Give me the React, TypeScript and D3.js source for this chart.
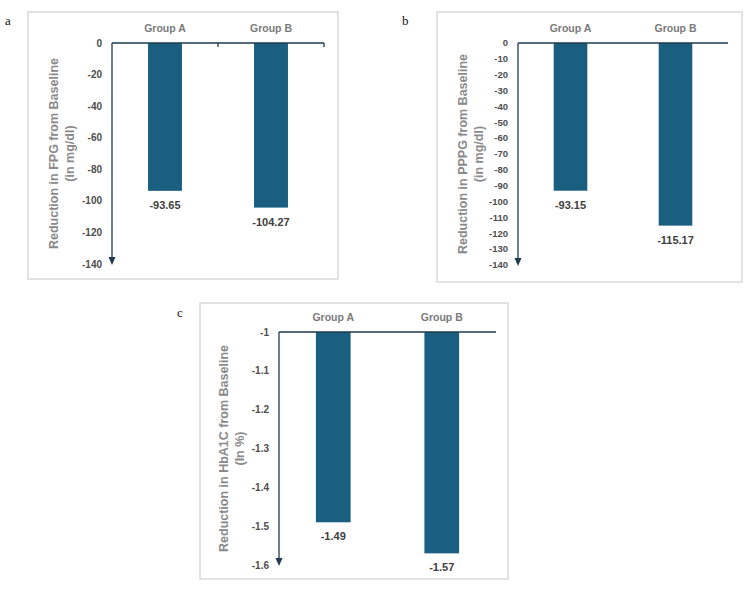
import * as d3 from "d3";

// Treatment groups and the mean reduction from baseline for each measure
const groups = ["Group A", "Group B"];
const fpgValues = [-93.65, -104.27];
const ppgValues = [-93.15, -115.17];
const hba1cValues = [-1.49, -1.57];

// Y tick values for each panel
const fpgTicks = [0, -20, -40, -60, -80, -100, -120, -140];
const ppgTicks = [0, -10, -20, -30, -40, -50, -60, -70, -80, -90, -100, -110, -120, -130, -140];
const hba1cTicks = [-1, -1.1, -1.2, -1.3, -1.4, -1.5, -1.6];

const COLORS = {
  bar: "#1b5f80",
  axis: "#1f3b4f",
  frame: "#d9d9d9",
  tick: "#4d4d4d",
  group: "#7a7a7a",
  title: "#8a8a8a",
  value: "#404040",
};

const FONT = "'Liberation Sans', Arial, Helvetica, sans-serif";

interface PanelProps {
  id: string;
  letter: string;
  letterPos: [number, number];
  frame: { x: number; y: number; w: number; h: number };
  plot: { left: number; right: number; top: number; bottom: number };
  values: number[];
  ticks: number[];
  titleLines: string[];
  titleX: number;
  tickRight: number;
  tickSize: number;
  bandTicks?: boolean;
}

function Panel({ id, letter, letterPos, frame, plot, values, ticks, titleLines, titleX, tickRight, tickSize, bandTicks }: PanelProps) {
  const y = d3.scaleLinear()
    .domain([ticks[0], ticks[ticks.length - 1]])
    .range([plot.top, plot.bottom]);

  const x = d3.scaleBand()
    .domain(groups)
    .range([plot.left, plot.right])
    .paddingInner(0.68)
    .paddingOuter(0.34);

  const outer = d3.scaleBand().domain(groups).range([plot.left, plot.right]);
  const base = ticks[0];
  const titleY = (plot.top + plot.bottom) / 2;
  const lineGap = 16;

  return (
    <g className={`panel-${id}`}>
      <text x={letterPos[0]} y={letterPos[1]} fontFamily="'Liberation Serif', 'Times New Roman', serif" fontSize={13} fill="#111">
        {letter}
      </text>
      <rect x={frame.x} y={frame.y} width={frame.w} height={frame.h} fill="#fff" stroke={COLORS.frame} strokeWidth={1.5} />

      {/* bars hanging down from the baseline */}
      {groups.map((g, i) => (
        <rect
          key={g}
          x={x(g)}
          y={y(base)}
          width={x.bandwidth()}
          height={y(values[i]) - y(base)}
          fill={COLORS.bar}
        />
      ))}

      {/* value labels under each bar */}
      {groups.map((g, i) => (
        <text
          key={`v-${g}`}
          x={(x(g) ?? 0) + x.bandwidth() / 2}
          y={y(values[i]) + 18}
          textAnchor="middle"
          fontFamily={FONT}
          fontWeight={700}
          fontSize={11}
          fill={COLORS.value}
        >
          {values[i].toFixed(2)}
        </text>
      ))}

      {/* category labels above the top axis */}
      {groups.map((g) => (
        <text
          key={`g-${g}`}
          x={(outer(g) ?? 0) + outer.bandwidth() / 2}
          y={plot.top - 11}
          textAnchor="middle"
          fontFamily={FONT}
          fontWeight={700}
          fontSize={10.5}
          fill={COLORS.group}
        >
          {g}
        </text>
      ))}

      {/* top category axis */}
      <line x1={plot.left} x2={plot.right} y1={y(base)} y2={y(base)} stroke={COLORS.axis} strokeWidth={1.3} />
      {bandTicks &&
        groups.map((g) => {
          const tx = (outer(g) ?? 0) + outer.bandwidth();
          return <line key={`t-${g}`} x1={tx} x2={tx} y1={y(base)} y2={y(base) + 4} stroke={COLORS.axis} strokeWidth={1.3} />;
        })}

      {/* value axis with arrow head */}
      <line x1={plot.left} x2={plot.left} y1={y(base)} y2={plot.bottom - 4} stroke={COLORS.axis} strokeWidth={1.3} />
      <path
        d={`M${plot.left - 3.5},${plot.bottom - 7}L${plot.left + 3.5},${plot.bottom - 7}L${plot.left},${plot.bottom + 1}Z`}
        fill={COLORS.axis}
      />

      {ticks.map((t) => (
        <text
          key={`y-${t}`}
          x={tickRight}
          y={y(t)}
          dy="0.35em"
          textAnchor="end"
          fontFamily={FONT}
          fontWeight={700}
          fontSize={tickSize}
          fill={COLORS.tick}
        >
          {t === 0 ? "0" : String(t)}
        </text>
      ))}

      <text
        transform={`translate(${titleX},${titleY}) rotate(-90)`}
        textAnchor="middle"
        fontFamily={FONT}
        fontWeight={700}
        fontSize={12.5}
        fill={COLORS.title}
      >
        {titleLines.map((line, i) => (
          <tspan key={i} x={0} y={(i - (titleLines.length - 1) / 2) * lineGap + 4}>
            {line}
          </tspan>
        ))}
      </text>
    </g>
  );
}

export default function App() {
  return (
    <svg width={750} height={591} style={{ position: "absolute", left: 0, top: 0, background: "#fff" }}>
      <rect width={750} height={591} fill="#fff" />
      <Panel
        id="fpg"
        letter="a"
        letterPos={[5, 25]}
        frame={{ x: 28, y: 12, w: 310, h: 267 }}
        plot={{ left: 112, right: 324, top: 43, bottom: 264 }}
        values={fpgValues}
        ticks={fpgTicks}
        titleLines={["Reduction in FPG from Baseline", "(in mg/dl)"]}
        titleX={62}
        tickRight={102}
        tickSize={10}
        bandTicks
      />
      <Panel
        id="ppg"
        letter="b"
        letterPos={[402, 25]}
        frame={{ x: 437, y: 12, w: 305, h: 270 }}
        plot={{ left: 518, right: 728, top: 43, bottom: 265 }}
        values={ppgValues}
        ticks={ppgTicks}
        titleLines={["Reduction in PPPG from Baseline", "(in mg/dl)"]}
        titleX={471}
        tickRight={508}
        tickSize={9.5}
      />
      <Panel
        id="hba1c"
        letter="c"
        letterPos={[177, 317]}
        frame={{ x: 200, y: 303, w: 308, h: 276 }}
        plot={{ left: 279, right: 496, top: 332, bottom: 565 }}
        values={hba1cValues}
        ticks={hba1cTicks}
        titleLines={["Reduction in HbA1C from Baseline", "(In %)"]}
        titleX={232}
        tickRight={269}
        tickSize={10}
      />
    </svg>
  );
}
